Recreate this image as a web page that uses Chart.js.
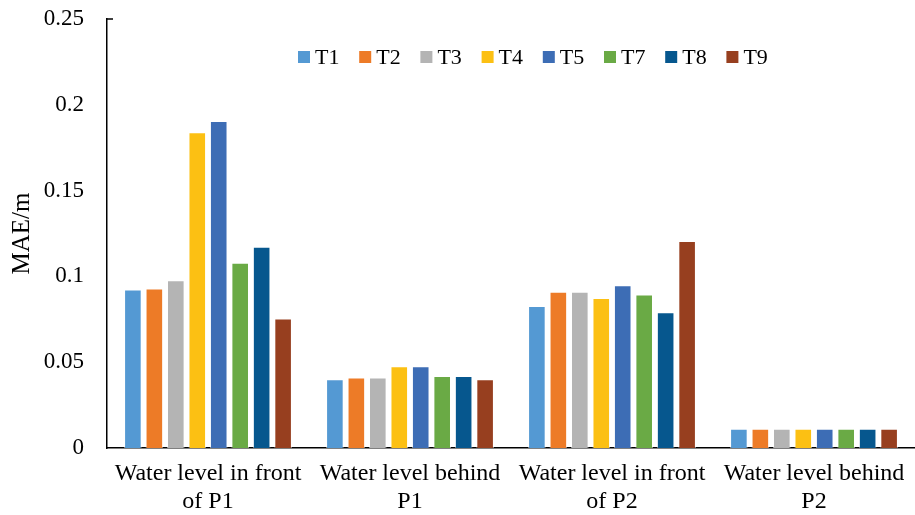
<!DOCTYPE html>
<html>
<head>
<meta charset="utf-8">
<script src="https://cdn.jsdelivr.net/npm/chart.js@4"></script>
<style>
  html, body { margin: 0; padding: 0; background: #fff; }
  #wrap { width: 915px; height: 515px; }
</style>
</head>
<body>
<div id="wrap"><canvas id="chart" width="915" height="515"></canvas></div>
<script>
// categories (each label split in two lines as in the picture)
const categories = [
    ['Water level in front', 'of P1'],
    ['Water level behind', 'P1'],
    ['Water level in front', 'of P2'],
    ['Water level behind', 'P2']
];

const seriesNames = ['T1', 'T2', 'T3', 'T4', 'T5', 'T7', 'T8', 'T9'];
const seriesColors = ['#5499d3', '#ed7b27', '#b4b4b4', '#fcc013', '#3d6db5', '#6aaa45', '#06578e', '#973f1f'];

// MAE values, one array per series
const t1 = [0.0924, 0.0401, 0.0827, 0.0112];
const t2 = [0.0930, 0.0411, 0.0911, 0.0112];
const t3 = [0.0977, 0.0411, 0.0911, 0.0112];
const t4 = [0.1840, 0.0477, 0.0874, 0.0112];
const t5 = [0.1905, 0.0477, 0.0948, 0.0112];
const t7 = [0.1080, 0.0419, 0.0894, 0.0112];
const t8 = [0.1173, 0.0419, 0.0791, 0.0112];
const t9 = [0.0754, 0.0401, 0.1207, 0.0112];
const seriesValues = [t1, t2, t3, t4, t5, t7, t8, t9];

const yTicks = [0, 0.05, 0.1, 0.15, 0.2, 0.25];

const FONT = '"Liberation Serif", "Times New Roman", serif';

// legend drawn inside the plot area (Excel style)
const insideLegend = {
    id: 'insideLegend',
    afterDraw(chart, args, opts) {
        const ctx = chart.ctx;
        ctx.save();
        ctx.font = '22px ' + FONT;
        ctx.textBaseline = 'middle';
        chart.data.datasets.forEach((ds, i) => {
            const x = opts.x + i * opts.step;
            ctx.fillStyle = ds.backgroundColor;
            ctx.fillRect(x, opts.y - 6, 12, 12);
            ctx.fillStyle = '#000';
            ctx.fillText(ds.label, x + 17, opts.y + 1);
        });
        ctx.restore();
    }
};

// small cap at the top of the value axis
const axisCap = {
    id: 'axisCap',
    afterDraw(chart) {
        const { ctx, chartArea } = chart;
        ctx.save();
        ctx.strokeStyle = '#000';
        ctx.lineWidth = 1.5;
        ctx.beginPath();
        ctx.moveTo(chartArea.left - 0.75, chartArea.top);
        ctx.lineTo(chartArea.left + 6, chartArea.top);
        ctx.stroke();
        ctx.restore();
    }
};

const ctx = document.getElementById('chart').getContext('2d');
new Chart(ctx, {
    type: 'bar',
    data: {
        labels: categories,
        datasets: seriesNames.map((name, i) => ({
            label: name,
            data: seriesValues[i],
            backgroundColor: seriesColors[i],
            borderColor: 'rgba(255,255,255,0.55)',
            borderWidth: 1,
            categoryPercentage: 0.85,
            barPercentage: 0.82
        }))
    },
    options: {
        responsive: false,
        animation: false,
        layout: { padding: { top: 19, right: 0, left: 0, bottom: 0 } },
        plugins: {
            legend: { display: false },
            tooltip: { enabled: false },
            insideLegend: { x: 298, y: 57, step: 61.2 }
        },
        scales: {
            x: {
                grid: { display: false, drawTicks: false },
                border: { display: true, color: '#000', width: 1.5 },
                ticks: {
                    color: '#000',
                    font: { family: FONT, size: 24 },
                    padding: 11,
                    maxRotation: 0,
                    autoSkip: false
                },
                afterFit(scale) {
                    scale.height = 67;
                    scale.paddingLeft = 0;
                    scale.paddingRight = 0;
                }
            },
            y: {
                min: 0,
                max: 0.25,
                afterBuildTicks(scale) { scale.ticks = yTicks.map(v => ({ value: v })); },
                grid: { display: false, drawTicks: false },
                border: { display: true, color: '#000', width: 1.5 },
                ticks: {
                    color: '#000',
                    font: { family: FONT, size: 23 },
                    padding: 23,
                    callback: v => String(+v.toFixed(2))
                },
                title: {
                    display: true,
                    text: 'MAE/m',
                    color: '#000',
                    font: { family: FONT, size: 25 },
                    padding: { top: 7, bottom: 0 }
                },
                afterFit(scale) {
                    scale.width = 107;
                    scale.paddingTop = 0;
                    scale.paddingBottom = 0;
                }
            }
        }
    },
    plugins: [insideLegend, axisCap]
});
</script>
</body>
</html>
